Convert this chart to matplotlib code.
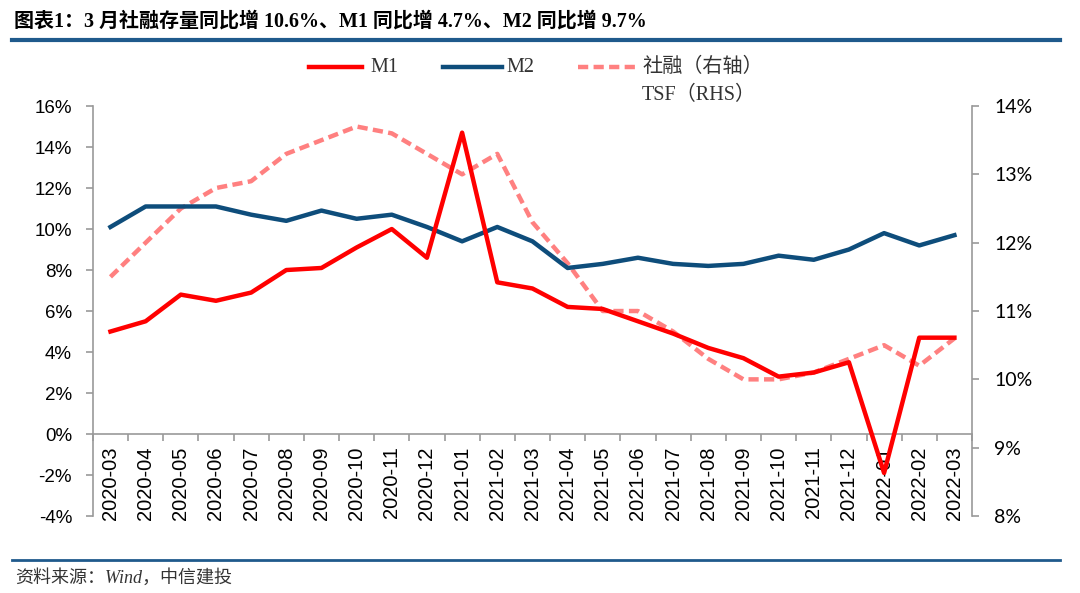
# M1 / M2 / TSF growth chart
import numpy as np
import matplotlib
matplotlib.use('Agg')
import matplotlib.pyplot as plt
from matplotlib.ticker import FuncFormatter, MultipleLocator, FixedLocator

# data
months = ['2020-03', '2020-04', '2020-05', '2020-06', '2020-07', '2020-08', '2020-09',
          '2020-10', '2020-11', '2020-12', '2021-01', '2021-02', '2021-03', '2021-04',
          '2021-05', '2021-06', '2021-07', '2021-08', '2021-09', '2021-10', '2021-11',
          '2021-12', '2022-01', '2022-02', '2022-03']
m1 = [5.0, 5.5, 6.8, 6.5, 6.9, 8.0, 8.1, 9.1, 10.0, 8.6, 14.7, 7.4, 7.1, 6.2,
      6.1, 5.5, 4.9, 4.2, 3.7, 2.8, 3.0, 3.5, -1.9, 4.7, 4.7]
m2 = [10.1, 11.1, 11.1, 11.1, 10.7, 10.4, 10.9, 10.5, 10.7, 10.1, 9.4, 10.1, 9.4, 8.1,
      8.3, 8.6, 8.3, 8.2, 8.3, 8.7, 8.5, 9.0, 9.8, 9.2, 9.7]
tsf = [11.5, 12.0, 12.5, 12.8, 12.9, 13.3, 13.5, 13.7, 13.6, 13.3, 13.0, 13.3, 12.3, 11.7,
       11.0, 11.0, 10.7, 10.3, 10.0, 10.0, 10.1, 10.3, 10.5, 10.2, 10.6]

cjk = ['Liberation Serif', 'Noto Sans CJK SC']
grey = '#999999'
c_m1, c_m2, c_tsf = '#FF0000', '#0E4D7B', '#FF8080'
dash = (0, (2.3, 1.2))

W, H = 1080, 593
fig = plt.figure(figsize=[10.8, 5.93], dpi=100)
ax = fig.add_axes([0.086, 0.1298, 0.814, 0.6914])
ax2 = ax.twinx()
x = np.arange(len(months))

ax.plot(x, m1, color=c_m1, lw=3.2, zorder=4)
ax.plot(x, m2, color=c_m2, lw=3.2, zorder=3)
ax2.plot(x, tsf, color=c_tsf, lw=3.2, ls=dash)
ax.set_zorder(ax2.get_zorder() + 1)
ax.patch.set_visible(False)

ax.set_xlim(-0.5, len(months) - 0.5)
ax.set_ylim(-4, 16)
ax2.set_ylim(8, 14)
ax.yaxis.set_major_locator(MultipleLocator(2))
ax2.yaxis.set_major_locator(MultipleLocator(1))
ax.yaxis.set_major_formatter(FuncFormatter(lambda v, p: '%d%%' % v))
ax2.yaxis.set_major_formatter(FuncFormatter(lambda v, p: '%d%%' % v))

# category axis sits at 0%
ax.spines['bottom'].set_position(('data', 0))
ax.set_xticks(x)
ax.set_xticklabels(months, rotation=90, fontsize=14.5, family='Liberation Sans')
ax.xaxis.set_minor_locator(FixedLocator(np.arange(-0.5, len(months), 1)))
ax.tick_params(axis='x', which='major', length=0, pad=9)
ax.tick_params(axis='x', which='minor', length=5, color=grey, width=1.2)

for a in (ax, ax2):
    a.spines['top'].set_visible(False)
    for s in ('left', 'right', 'bottom'):
        a.spines[s].set_color(grey)
        a.spines[s].set_linewidth(1.2)
    a.tick_params(axis='y', length=5, color=grey, width=1.2)
ax.tick_params(axis='y', labelsize=13.5, pad=10)
ax2.tick_params(axis='y', labelsize=14, pad=11)
for lab in ax.get_yticklabels():
    lab.set_family('Liberation Sans')
for lab in ax2.get_yticklabels():
    lab.set_family('Lato')
ax2.spines['bottom'].set_visible(False)
ax2.spines['left'].set_visible(False)
ax.spines['right'].set_visible(False)

# legend drawn by hand
def fx(px):
    return px / W

def fy(py):
    return 1 - py / H

leg = [(309, 362, 370, c_m1, '-', 'M1'),
       (443, 502, 506, c_m2, '-', 'M2'),
       (578, 637, 642, c_tsf, dash, '社融（右轴）')]
for x0, x1, tx, col, st, lab in leg:
    fig.add_artist(plt.Line2D([fx(x0), fx(x1)], [fy(67), fy(67)], color=col, lw=3.2, ls=st))
    fig.text(fx(tx), fy(67), lab, fontsize=14.5, family=cjk, color='#333333', va='center')
fig.text(fx(642), fy(95), 'TSF（RHS）', fontsize=14.5, family=cjk, color='#333333', va='center')

# title, rules, source
fig.text(fx(14), fy(22), '图表1：3 月社融存量同比增 10.6%、M1 同比增 4.7%、M2 同比增 9.7%',
         fontsize=14.4, weight='bold', family=cjk, va='center')
fig.add_artist(plt.Line2D([fx(12), fx(1060)], [fy(40), fy(40)], color='#1F5A8C', lw=3))
fig.add_artist(plt.Line2D([fx(12), fx(1060)], [fy(560), fy(560)], color='#1F5A8C', lw=2))
fig.text(fx(15), fy(578), '资料来源：Wind，中信建投', fontsize=13, style='italic',
         family=cjk, color='#333333', va='center')

fig.savefig('out.png', dpi=100)
